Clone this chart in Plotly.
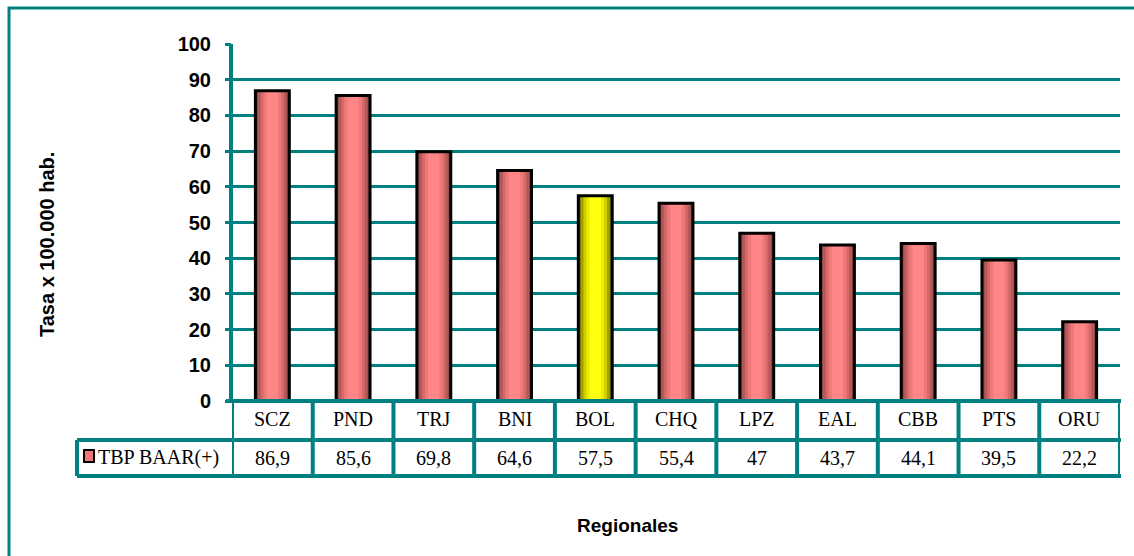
import plotly.graph_objects as go

categories = ["SCZ", "PND", "TRJ", "BNI", "BOL", "CHQ", "LPZ", "EAL", "CBB", "PTS", "ORU"]
values = [86.9, 85.6, 69.8, 64.6, 57.5, 55.4, 47, 43.7, 44.1, 39.5, 22.2]
value_labels = ["86,9", "85,6", "69,8", "64,6", "57,5", "55,4", "47", "43,7", "44,1", "39,5", "22,2"]
series_name = "TBP BAAR(+)"
highlight = "BOL"
y_ticks = list(range(0, 101, 10))

TEAL = "#008080"
W, H = 1134, 556
L, R, T, B = 232, 14, 44, 155
PW = W - L - R
PH = H - T - B

def px(x):
    return (x - L) / PW

def py(y):
    return (H - B - y) / PH

salmon_layers = ["#8a4444", "#b45858", "#d66a6a", "#ef7878", "#ff8686"]
yellow_layers = ["#6e6e00", "#a3a300", "#cfcf00", "#ecec00", "#ffff10"]
widths = [0.42, 0.36, 0.29, 0.22, 0.14]

fig = go.Figure()
for i, w in enumerate(widths):
    cols = [yellow_layers[i] if c == highlight else salmon_layers[i] for c in categories]
    fig.add_trace(go.Bar(x=categories, y=values, width=w, marker=dict(color=cols, line=dict(width=0)),
                         showlegend=False, hoverinfo="skip"))
fig.add_trace(go.Bar(x=categories, y=values, width=0.42, name=series_name,
                     marker=dict(color="rgba(0,0,0,0)", line=dict(color="black", width=3)),
                     showlegend=False))

shapes = []
# outer border
shapes.append(dict(type="rect", xref="paper", yref="paper", x0=px(9), x1=px(1300), y0=py(700), y1=py(8),
                   line=dict(color=TEAL, width=3), layer="below"))
tl = dict(color=TEAL, width=4)
# y axis line
shapes.append(dict(type="line", xref="paper", yref="paper", x0=px(231), x1=px(231), y0=py(401), y1=py(44), line=tl))
# table horizontal lines
shapes.append(dict(type="line", xref="paper", yref="paper", x0=px(226), x1=px(1121), y0=py(401), y1=py(401), line=tl))
shapes.append(dict(type="line", xref="paper", yref="paper", x0=px(77), x1=px(1121), y0=py(440), y1=py(440), line=tl))
shapes.append(dict(type="line", xref="paper", yref="paper", x0=px(77), x1=px(1121), y0=py(476), y1=py(476), line=tl))
shapes.append(dict(type="line", xref="paper", yref="paper", x0=px(77), x1=px(77), y0=py(440), y1=py(476), line=tl))
# vertical lines at category boundaries
n = len(categories)
for k in range(n + 1):
    xb = k - 0.5
    shapes.append(dict(type="line", xref="x", yref="paper", x0=xb, x1=xb, y0=py(401), y1=py(476), line=tl))
# legend key
shapes.append(dict(type="rect", xref="paper", yref="paper", x0=px(84), x1=px(94), y0=py(462), y1=py(450),
                   fillcolor="#f07878", line=dict(color="black", width=2)))

annotations = []
serif = dict(family="Liberation Serif, Times New Roman, serif", size=20, color="black")
for c, v in zip(categories, value_labels):
    annotations.append(dict(x=c, y=py(419), xref="x", yref="paper", text=c, showarrow=False, font=serif,
                            xanchor="center", yanchor="middle"))
    annotations.append(dict(x=c, y=py(458), xref="x", yref="paper", text=v, showarrow=False, font=serif,
                            xanchor="center", yanchor="middle"))
annotations.append(dict(x=px(96), y=py(458), xref="paper", yref="paper", text=series_name, showarrow=False,
                        xanchor="left", yanchor="middle", font=serif))
bold = dict(family="Liberation Sans, Arial, sans-serif", size=20, color="black")
annotations.append(dict(x=px(47), y=py(245), xref="paper", yref="paper", text="<b>Tasa x 100.000 hab.</b>",
                        showarrow=False, textangle=-90, font=bold, xanchor="center", yanchor="middle"))
annotations.append(dict(x=px(627), y=py(525), xref="paper", yref="paper", text="<b>Regionales</b>",
                        showarrow=False, font=dict(family="Liberation Sans, Arial, sans-serif", size=19, color="black"),
                        xanchor="center", yanchor="middle"))

fig.update_layout(
    width=W, height=H,
    margin=dict(l=L, r=R, t=T, b=B),
    paper_bgcolor="white", plot_bgcolor="white",
    barmode="overlay",
    shapes=shapes, annotations=annotations,
    xaxis=dict(range=[-0.5, n - 0.5], showticklabels=False, showgrid=False, zeroline=False, showline=False,
               ticks=""),
    yaxis=dict(range=[0, 100], tickvals=y_ticks, showgrid=True, gridcolor=TEAL, gridwidth=3,
               zeroline=False, showline=False,
               ticks="outside", ticklen=6, tickwidth=3, tickcolor=TEAL, ticklabelstandoff=10,
               tickfont=dict(family="Liberation Sans, Arial, sans-serif", size=20, color="black", weight="bold")),
)

fig.write_html("out.html")
